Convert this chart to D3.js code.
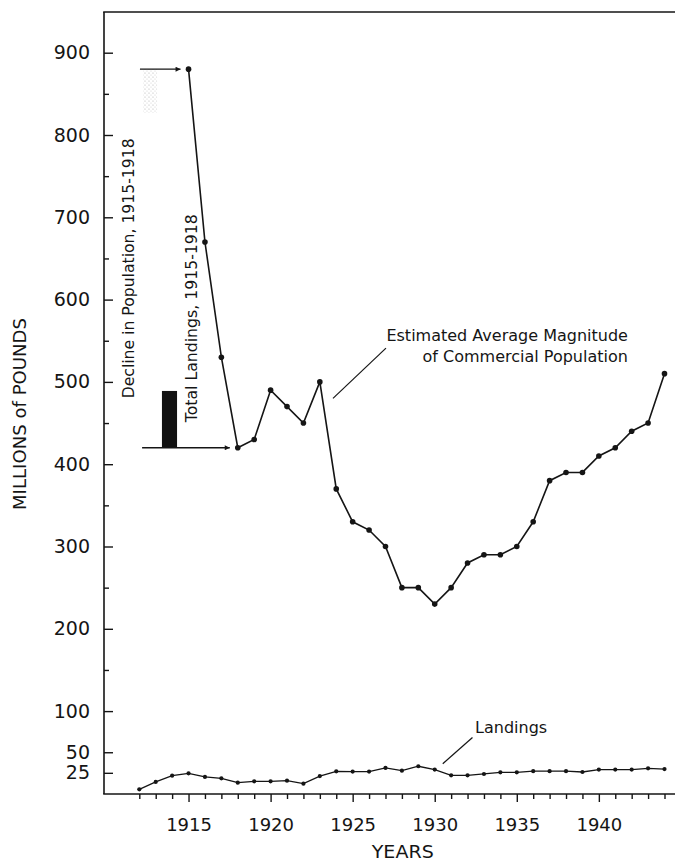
<!DOCTYPE html>
<html>
<head>
<meta charset="utf-8">
<script src="https://cdn.jsdelivr.net/npm/d3@7"></script>
<style>
  html, body { margin: 0; padding: 0; background: #fff; }
  svg { display: block; }
  text { font-family: "DejaVu Sans", "Liberation Sans", sans-serif; fill: #151515; }
</style>
</head>
<body>
<script>
// Commercial population estimate (millions of pounds), 1915-1944
const popYears = [1915, 1916, 1917, 1918, 1919, 1920, 1921, 1922, 1923, 1924,
                  1925, 1926, 1927, 1928, 1929, 1930, 1931, 1932, 1933, 1934,
                  1935, 1936, 1937, 1938, 1939, 1940, 1941, 1942, 1943, 1944];
const popValues = [880, 670, 530, 420, 430, 490, 470, 450, 500, 370,
                   330, 320, 300, 250, 250, 230, 250, 280, 290, 290,
                   300, 330, 380, 390, 390, 410, 420, 440, 450, 510];

// Annual landings (millions of pounds), 1912-1944
const landYears = [1912, 1913, 1914, 1915, 1916, 1917, 1918, 1919, 1920, 1921,
                   1922, 1923, 1924, 1925, 1926, 1927, 1928, 1929, 1930, 1931,
                   1932, 1933, 1934, 1935, 1936, 1937, 1938, 1939, 1940, 1941,
                   1942, 1943, 1944];
const landValues = [5, 14, 21.5, 24.4, 20, 18.3, 13, 14.7, 14.7, 15.5,
                    11.8, 21, 26.8, 26.5, 26.5, 31, 27.6, 33, 29, 22,
                    22, 23.6, 25.6, 25.6, 27, 27, 27, 26, 29, 29,
                    29, 30.5, 29.6];

// Total landings over the 1915-1918 decline, shown as a bar
const totalLandings1915to1918 = 69;

// Axis ticks
const yLabelTicks = [25, 50, 100, 200, 300, 400, 500, 600, 700, 800, 900];
const yMinorTicks = [150, 250, 350, 450, 550, 650, 750, 850];
const xLabelTicks = [1915, 1920, 1925, 1930, 1935, 1940];

const W = 675, H = 861;
const svg = d3.select("body").append("svg").attr("width", W).attr("height", H);

const x = d3.scaleLinear().domain([1912, 1944]).range([139.3, 664.5]);
const y = d3.scaleLinear().domain([0, 900]).range([793.4, 52.7]);

const axisX = 104, axisY = 794, topY = 12, rightX = 675;
const ink = "#151515";

// stipple used for the faint population-decline marker
const defs = svg.append("defs");
const pat = defs.append("pattern").attr("id", "stipple")
  .attr("patternUnits", "userSpaceOnUse").attr("width", 4).attr("height", 4);
pat.append("circle").attr("cx", 1).attr("cy", 1).attr("r", 0.6).attr("fill", "#9a9a9a");
pat.append("circle").attr("cx", 3).attr("cy", 3).attr("r", 0.5).attr("fill", "#b5b5b5");

// frame: left axis, bottom axis, top rule
svg.append("line").attr("x1", axisX).attr("x2", axisX).attr("y1", topY).attr("y2", axisY)
  .attr("stroke", ink).attr("stroke-width", 1.6);
svg.append("line").attr("x1", axisX - 0.8).attr("x2", rightX).attr("y1", axisY).attr("y2", axisY)
  .attr("stroke", ink).attr("stroke-width", 1.6);
svg.append("line").attr("x1", axisX - 0.8).attr("x2", rightX).attr("y1", topY).attr("y2", topY)
  .attr("stroke", ink).attr("stroke-width", 1.4);

// y axis (ticks point inward)
const yAxisMajor = svg.append("g").attr("transform", `translate(${axisX},0)`)
  .call(d3.axisLeft(y).tickValues(yLabelTicks).tickSize(-9).tickPadding(14).tickFormat(d3.format("d")));
const yAxisMinor = svg.append("g").attr("transform", `translate(${axisX},0)`)
  .call(d3.axisLeft(y).tickValues(yMinorTicks).tickSize(-5).tickFormat(""));

// x axis (ticks every year, longer every fifth)
const xAxisMinor = svg.append("g").attr("transform", `translate(0,${axisY})`)
  .call(d3.axisBottom(x).tickValues(landYears.filter(d => d % 5 !== 0)).tickSize(5).tickFormat(""));
const xAxisMajor = svg.append("g").attr("transform", `translate(0,${axisY})`)
  .call(d3.axisBottom(x).tickValues(xLabelTicks).tickSize(8).tickPadding(16).tickFormat(d3.format("d")));

[yAxisMajor, yAxisMinor, xAxisMinor, xAxisMajor].forEach(g => {
  g.select(".domain").remove();
  g.selectAll(".tick line").attr("stroke", ink).attr("stroke-width", 1.4);
  g.selectAll(".tick text").attr("font-size", 18).attr("fill", ink)
    .attr("font-family", "'DejaVu Sans', sans-serif");
});
yAxisMajor.selectAll(".tick text").attr("font-size", 19);

// axis titles
svg.append("text").attr("x", x(1928.05)).attr("y", 858).attr("text-anchor", "middle")
  .attr("font-size", 17).attr("textLength", 62).attr("lengthAdjust", "spacingAndGlyphs")
  .text("YEARS");
svg.append("text").attr("transform", `translate(26,${414}) rotate(-90)`)
  .attr("text-anchor", "middle").attr("font-size", 17)
  .attr("textLength", 192).attr("lengthAdjust", "spacingAndGlyphs")
  .text("MILLIONS of POUNDS");

// population decline markers
svg.append("rect")
  .attr("x", x(1912.23)).attr("width", x(1913.08) - x(1912.23))
  .attr("y", y(880)).attr("height", y(827) - y(880))
  .attr("fill", "url(#stipple)").attr("opacity", 0.8);
svg.append("rect")
  .attr("x", x(1913.38)).attr("width", x(1914.3) - x(1913.38))
  .attr("y", y(popValues[3] + totalLandings1915to1918))
  .attr("height", y(popValues[3]) - y(popValues[3] + totalLandings1915to1918))
  .attr("fill", "#111");

// arrows from the population level at 1915 and 1918
defs.append("marker").attr("id", "arrow").attr("viewBox", "0 0 10 10")
  .attr("refX", 10).attr("refY", 5).attr("markerWidth", 7).attr("markerHeight", 5)
  .attr("markerUnits", "userSpaceOnUse").attr("orient", "auto")
  .append("path").attr("d", "M0,0 L10,5 L0,10 Z").attr("fill", ink);

svg.append("line")
  .attr("x1", x(1912.04)).attr("x2", x(1915) - 8)
  .attr("y1", y(popValues[0])).attr("y2", y(popValues[0]))
  .attr("stroke", ink).attr("stroke-width", 1.3).attr("marker-end", "url(#arrow)");
svg.append("line")
  .attr("x1", x(1912.17)).attr("x2", x(1918) - 8)
  .attr("y1", y(popValues[3])).attr("y2", y(popValues[3]))
  .attr("stroke", ink).attr("stroke-width", 1.3).attr("marker-end", "url(#arrow)");

// rotated labels for the markers
svg.append("text")
  .attr("transform", `translate(${x(1911.7)},${y(480)}) rotate(-90)`)
  .attr("font-size", 16).attr("textLength", 260).attr("lengthAdjust", "spacingAndGlyphs")
  .text("Decline in Population, 1915-1918");
svg.append("text")
  .attr("transform", `translate(${x(1915.49)},${y(451)}) rotate(-90)`)
  .attr("font-size", 16).attr("textLength", 208).attr("lengthAdjust", "spacingAndGlyphs")
  .text("Total Landings, 1915-1918");

// population series
const popData = popYears.map((yr, i) => ({ yr, v: popValues[i] }));
svg.append("path").datum(popData)
  .attr("fill", "none").attr("stroke", ink).attr("stroke-width", 1.6)
  .attr("d", d3.line().x(d => x(d.yr)).y(d => y(d.v)));
svg.append("g").selectAll("circle").data(popData).join("circle")
  .attr("cx", d => x(d.yr)).attr("cy", d => y(d.v)).attr("r", 2.8).attr("fill", ink);

// landings series
const landData = landYears.map((yr, i) => ({ yr, v: landValues[i] }));
svg.append("path").datum(landData)
  .attr("fill", "none").attr("stroke", ink).attr("stroke-width", 1.3)
  .attr("d", d3.line().x(d => x(d.yr)).y(d => y(d.v)));
svg.append("g").selectAll("circle").data(landData).join("circle")
  .attr("cx", d => x(d.yr)).attr("cy", d => y(d.v)).attr("r", 2.1).attr("fill", ink);

// series annotations with leader lines
svg.append("line")
  .attr("x1", x(1923.8)).attr("y1", y(480)).attr("x2", x(1927.03)).attr("y2", y(541))
  .attr("stroke", ink).attr("stroke-width", 1.2);
const popLabel = svg.append("text").attr("text-anchor", "end").attr("font-size", 16);
popLabel.append("tspan").attr("x", x(1941.77)).attr("y", y(550)).text("Estimated Average Magnitude");
popLabel.append("tspan").attr("x", x(1941.77)).attr("y", y(524)).text("of Commercial Population");

svg.append("line")
  .attr("x1", x(1930.49)).attr("y1", y(36)).attr("x2", x(1932.3)).attr("y2", y(68))
  .attr("stroke", ink).attr("stroke-width", 1.2);
svg.append("text").attr("x", x(1932.46)).attr("y", y(73)).attr("font-size", 16).text("Landings");
</script>
</body>
</html>
